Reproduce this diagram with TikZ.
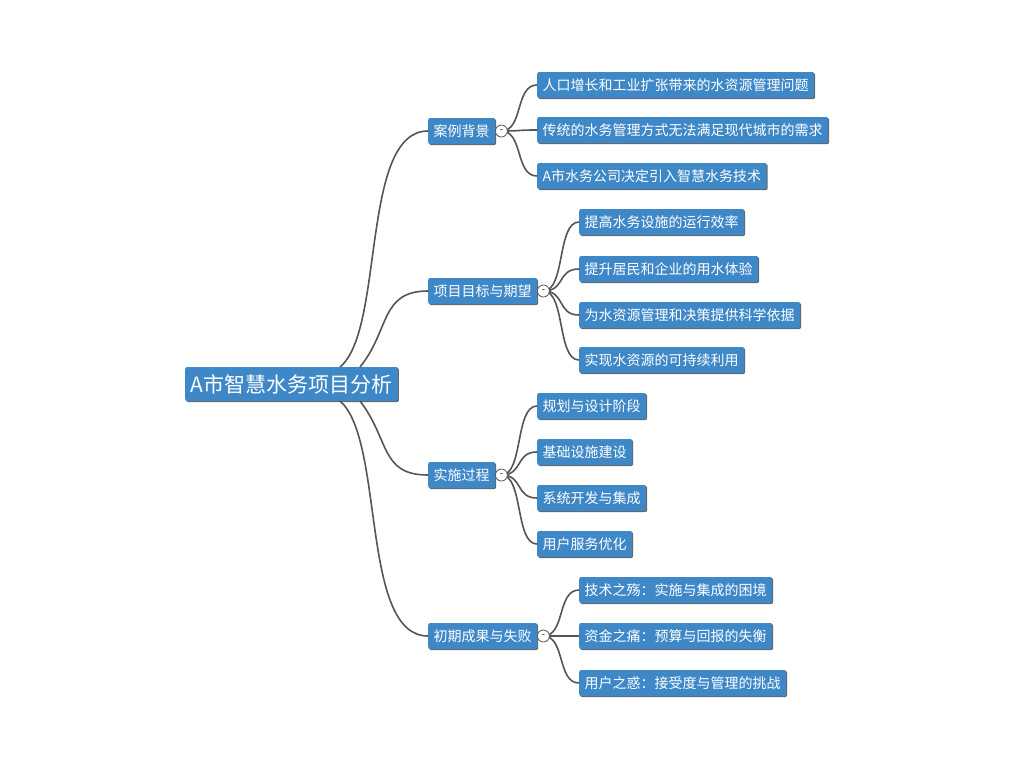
\documentclass[tikz,border=0pt]{standalone}
\usepackage{fontspec}
\setmainfont{Noto Sans CJK SC}
\usetikzlibrary{shadows}
\definecolor{nb}{HTML}{3F88C8}
\definecolor{ln}{HTML}{555555}
\tikzset{
 box/.style={fill=nb,text=white,rounded corners=2pt,anchor=west,inner xsep=5.5pt,inner ysep=0pt,minimum height=26pt,font=\fontsize{14}{15}\selectfont,drop shadow={shadow xshift=1pt,shadow yshift=-1pt,fill=black!60,opacity=1}},
 rootbox/.style={box,minimum height=34pt,font=\fontsize{21}{23}\selectfont},
 con/.style={draw=ln,line width=1.6pt},
 tog/.style={circle,draw=ln,fill=white,line width=0.8pt,inner sep=0pt,minimum size=12pt,font=\fontsize{9}{9}\selectfont}
}
\begin{document}
\begin{tikzpicture}[x=1pt,y=-1pt]
\useasboundingbox (0,0) rectangle (1024,768);
\node[rootbox] (r) at (185,384) {A市智慧水务项目分析};
\node[box] (a) at (428,131) {案例背景};
\node[box] (b) at (428,291) {项目目标与期望};
\node[box] (c) at (428,475) {实施过程};
\node[box] (d) at (428,636) {初期成果与失败};
\coordinate (r1) at (340,367);\coordinate (r2) at (360,367);
\coordinate (r3) at (360,401);\coordinate (r4) at (340,401);
\draw[con] (r1) .. controls (385,330) and (360,131) .. (a.west);
\draw[con] (r2) .. controls (390,330) and (380,291) .. (b.west);
\draw[con] (r3) .. controls (390,440) and (380,475) .. (c.west);
\draw[con] (r4) .. controls (385,440) and (360,636) .. (d.west);
\node[box] (a1) at (537,85) {人口增长和工业扩张带来的水资源管理问题};
\node[box] (a2) at (537,130) {传统的水务管理方式无法满足现代城市的需求};
\node[box] (a3) at (537,176) {A市水务公司决定引入智慧水务技术};
\node[box] (b1) at (579,222) {提高水务设施的运行效率};
\node[box] (b2) at (579,269) {提升居民和企业的用水体验};
\node[box] (b3) at (579,315) {为水资源管理和决策提供科学依据};
\node[box] (b4) at (579,360) {实现水资源的可持续利用};
\node[box] (c1) at (537,406) {规划与设计阶段};
\node[box] (c2) at (537,452) {基础设施建设};
\node[box] (c3) at (537,498) {系统开发与集成};
\node[box] (c4) at (537,544) {用户服务优化};
\node[box] (d1) at (579,590) {技术之殇：实施与集成的困境};
\node[box] (d2) at (579,636) {资金之痛：预算与回报的失衡};
\node[box] (d3) at (579,683) {用户之惑：接受度与管理的挑战};
\foreach \p/\k in {a/a1,a/a2,a/a3,b/b1,b/b2,b/b3,b/b4,c/c1,c/c2,c/c3,c/c4,d/d1,d/d2,d/d3}{
  \draw[con] ([xshift=6pt]\p.east) .. controls ([xshift=28pt]\p.east) and ([xshift=-22pt]\k.west) .. (\k.west);
}
\foreach \p in {a,b,c,d}{\node[tog] (t\p) at ([xshift=6pt]\p.east) {-};}
\end{tikzpicture}
\end{document}
